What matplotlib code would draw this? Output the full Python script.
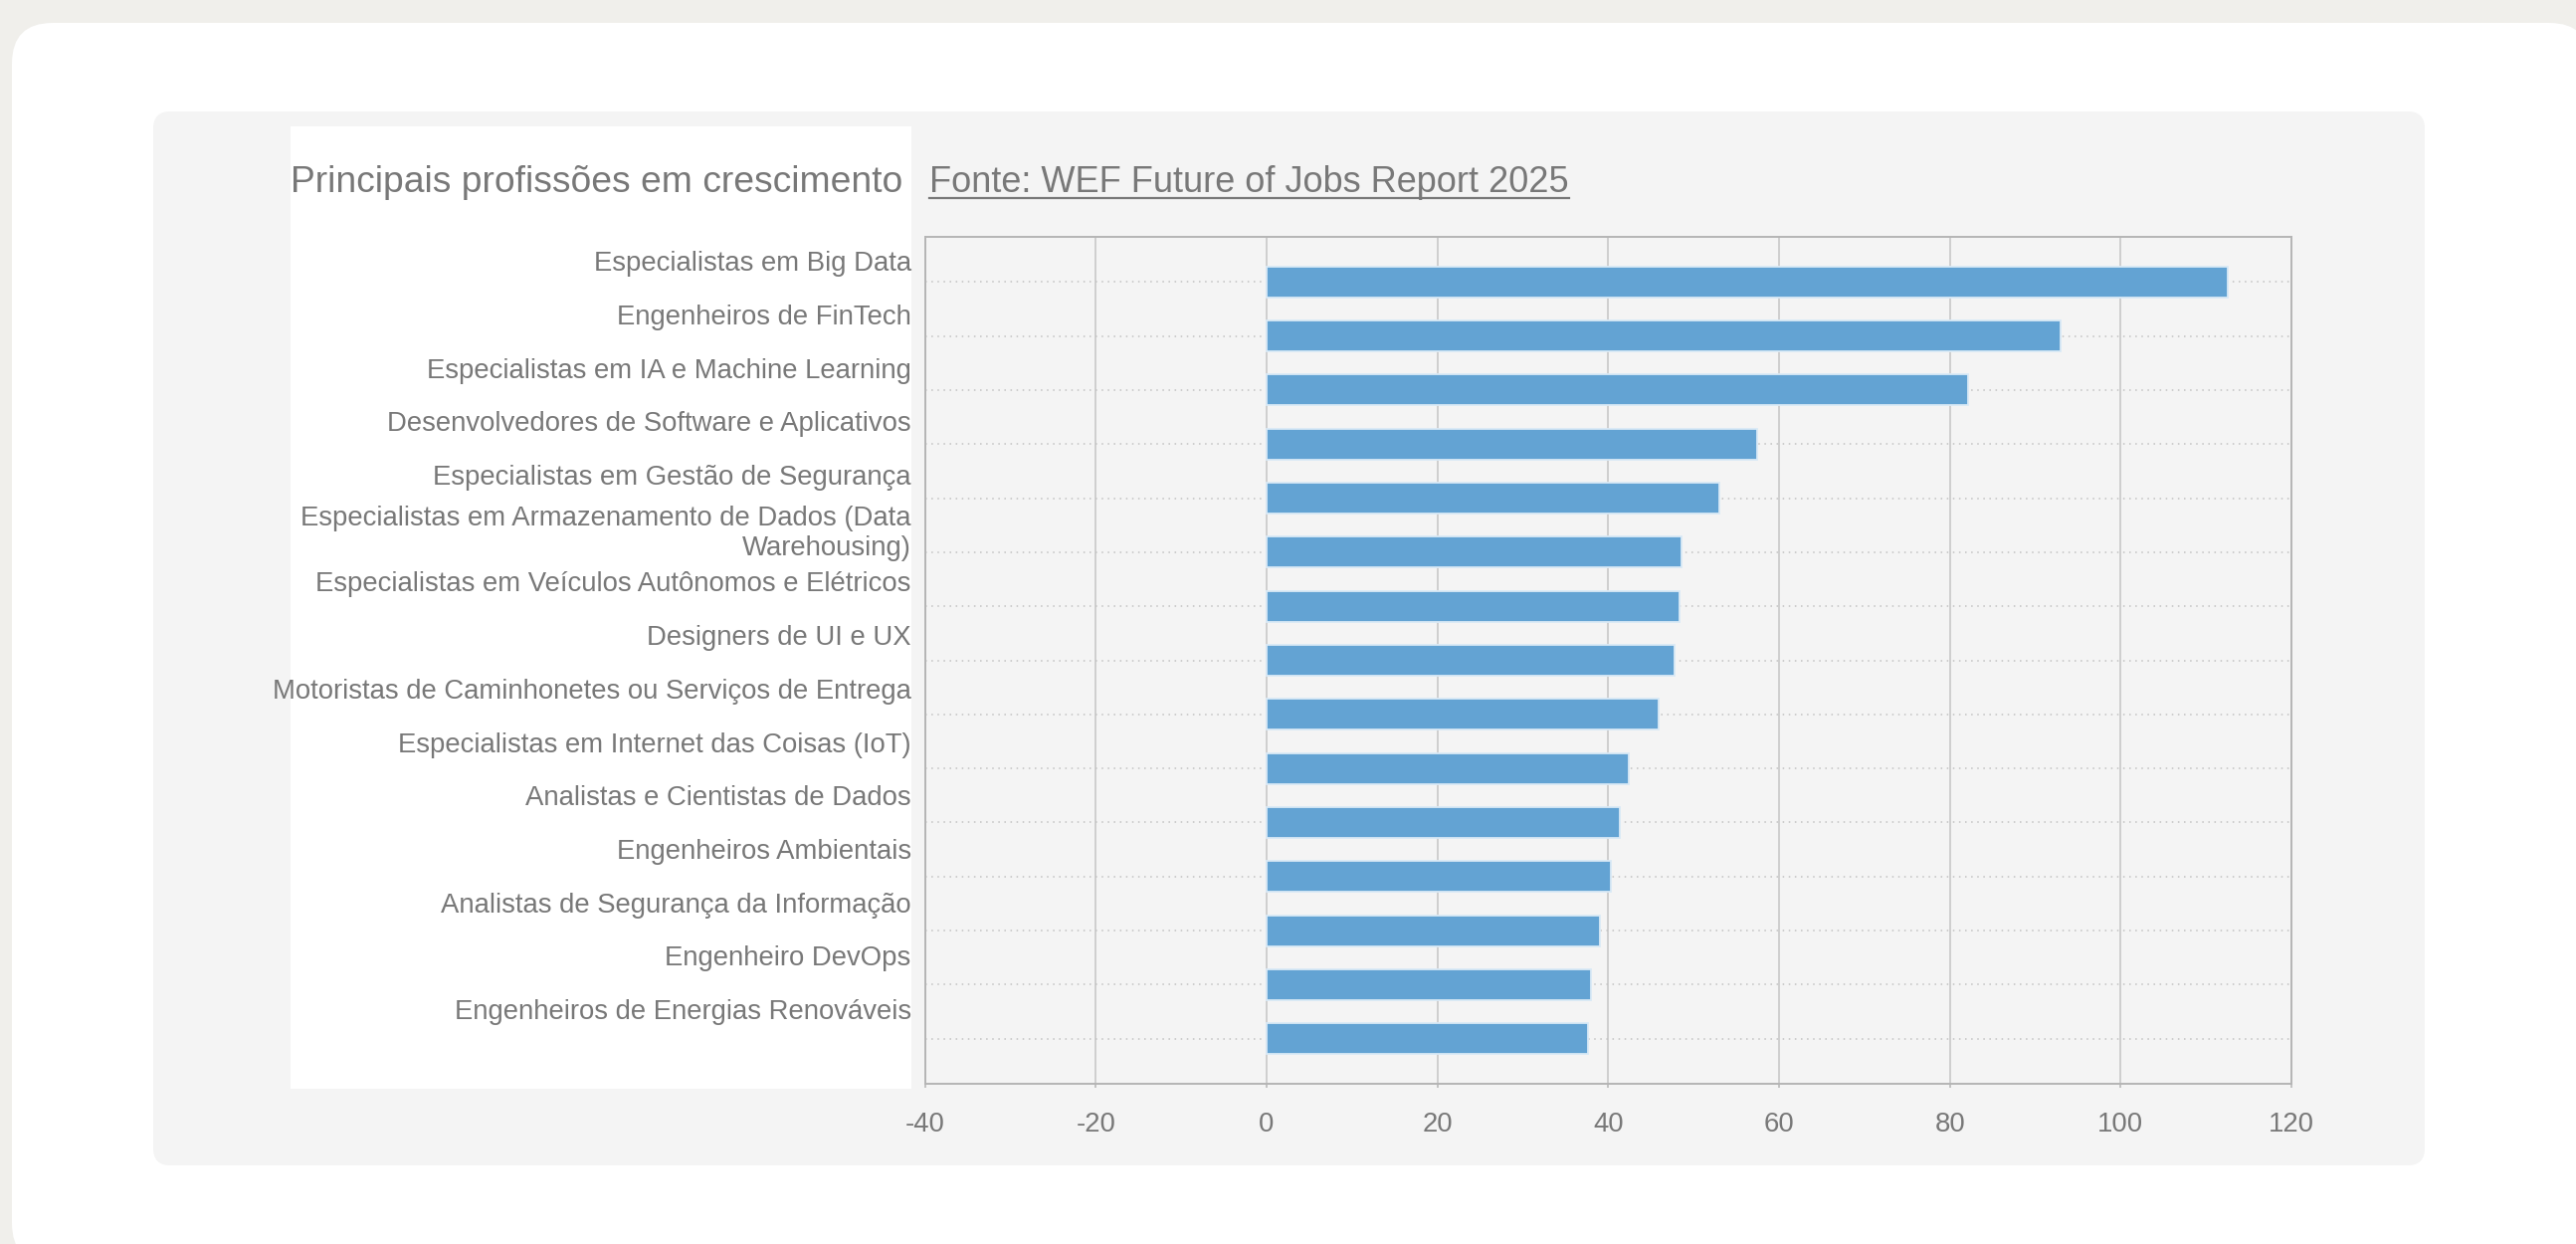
import matplotlib
matplotlib.use('Agg')
import matplotlib.pyplot as plt
from matplotlib.patches import FancyBboxPatch, Rectangle
from matplotlib.lines import Line2D

# ---------------- data ----------------
categories = [
    "Especialistas em Big Data",
    "Engenheiros de FinTech",
    "Especialistas em IA e Machine Learning",
    "Desenvolvedores de Software e Aplicativos",
    "Especialistas em Gestão de Segurança",
    "Especialistas em Armazenamento de Dados (Data\nWarehousing)",
    "Especialistas em Veículos Autônomos e Elétricos",
    "Designers de UI e UX",
    "Motoristas de Caminhonetes ou Serviços de Entrega",
    "Especialistas em Internet das Coisas (IoT)",
    "Analistas e Cientistas de Dados",
    "Engenheiros Ambientais",
    "Analistas de Segurança da Informação",
    "Engenheiro DevOps",
    "Engenheiros de Energias Renováveis",
]
values = [112.6, 93.0, 82.1, 57.4, 53.0, 48.6, 48.4, 47.8, 45.9, 42.4, 41.4, 40.3, 39.0, 38.0, 37.6]
x_ticks = [-40, -20, 0, 20, 40, 60, 80, 100, 120]
x_tick_labels = ["-40", "-20", "0", "20", "40", "60", "80", "100", "120"]
title_text = "Principais profissões em crescimento"
source_text = "Fonte: WEF Future of Jobs Report 2025"

# ---------------- style ----------------
W, H = 2589, 1250
TEXT = '#787878'
BAR = '#63a3d3'
plt.rcParams['font.family'] = ['Liberation Sans', 'DejaVu Sans']
plt.rcParams['axes.unicode_minus'] = False

fig = plt.figure(figsize=(W / 100, H / 100), dpi=100, facecolor='#f0efeb')

# background layers in pixel coordinates
bg = fig.add_axes([0, 0, 1, 1], zorder=0)
bg.set_xlim(0, W)
bg.set_ylim(H, 0)
bg.axis('off')
bg.add_patch(FancyBboxPatch((12, 23), 2603 - 12, 1270 - 23,
                            boxstyle='round,pad=0,rounding_size=41',
                            fc='white', ec='none'))
bg.add_patch(FancyBboxPatch((154, 112), 2437 - 154, 1171 - 112,
                            boxstyle='round,pad=0,rounding_size=17',
                            fc='#f4f4f4', ec='none'))
bg.add_patch(Rectangle((292, 127), 916 - 292, 1094 - 127, fc='white', ec='none'))

# main axes
L, R, T, B = 929.6, 2303, 238, 1089
rect = [L / W, 1 - B / H, (R - L) / W, (B - T) / H]
ax = fig.add_axes(rect, zorder=2)
ax.set_facecolor('#f4f4f4')
ypos = list(range(len(categories)))
ax.barh(ypos, values, height=0.57, color=BAR, edgecolor='#d9e9f6', linewidth=1.3, zorder=3)
ax.set_xlim(-40, 120)
ax.set_ylim(len(categories) - 1 + 0.834, -0.834)
ax.set_xticks(x_ticks)
ax.set_xticklabels(x_tick_labels)
ax.set_yticks(ypos)
ax.set_yticklabels([])
ax.set_axisbelow(True)
ax.xaxis.grid(True, color='#c4c4c4', linewidth=1.1, linestyle='-')
ax.yaxis.grid(True, color='#c2c2c2', linewidth=1.1, linestyle=(0, (1, 3)))
for s in ax.spines.values():
    s.set_color('#b5b5b5')
    s.set_linewidth(1.4)
ax.tick_params(axis='x', colors='#b5b5b5', labelcolor=TEXT, labelsize=19.8,
               length=3, width=1.1, pad=17)
ax.tick_params(axis='y', length=0)

# label axes (labels sit slightly differently than bars, as in the reference)
axl = fig.add_axes(rect, zorder=3)
axl.patch.set_visible(False)
for s in axl.spines.values():
    s.set_visible(False)
axl.set_ylim(15.399, -0.4546)
axl.set_xticks([])
axl.set_yticks(ypos)
axl.set_yticklabels(categories, color=TEXT, fontsize=19.8, ha='right')
axl.tick_params(axis='y', length=0, pad=10)

# title and source
fig.text(292 / W, 1 - 193 / H, title_text, color=TEXT, fontsize=26.85, va='baseline', ha='left')
src = fig.text(934 / W, 1 - 193 / H, source_text, color=TEXT, fontsize=26.0, va='baseline', ha='left')
fig.canvas.draw()
bb = src.get_window_extent()
uy = 1 - 199 / H
fig.add_artist(Line2D([bb.x0 / W, bb.x1 / W], [uy, uy], transform=fig.transFigure,
                      color=TEXT, linewidth=1.6))

fig.savefig('out.png', dpi=100, facecolor=fig.get_facecolor())
